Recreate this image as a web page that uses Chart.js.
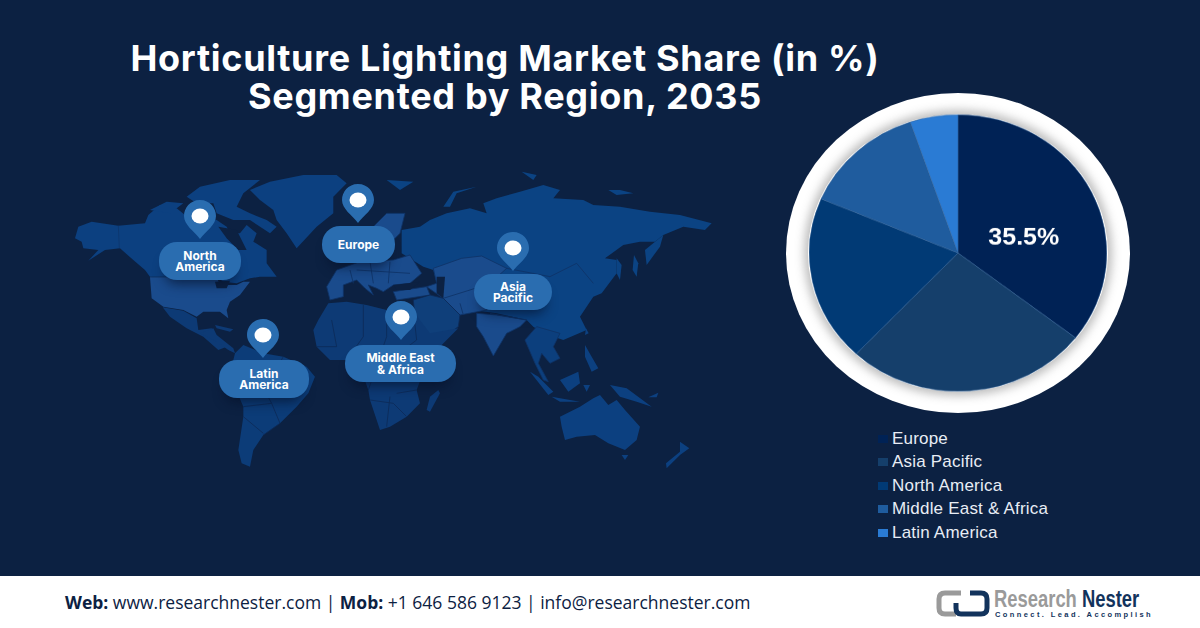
<!DOCTYPE html>
<html>
<head>
<meta charset="utf-8">
<title>Horticulture Lighting Market Share</title>
<script src="https://cdn.jsdelivr.net/npm/chart.js@4"></script>
<style>
  html,body{margin:0;padding:0;background:#0c2142;}
  #page{position:relative;width:1200px;height:628px;overflow:hidden;background:#0c2142;font-family:"Inter",sans-serif;}
  #title{position:absolute;left:0;top:39px;width:1010px;text-align:center;color:#fff;font-weight:700;font-size:36px;line-height:38px;letter-spacing:.7px;}
  #map{position:absolute;left:0;top:0;width:1200px;height:628px;}
  .pill{position:absolute;background:#2a6db0;color:#fff;font-weight:700;font-size:12px;line-height:11.5px;border-radius:18px;display:flex;align-items:center;justify-content:center;text-align:center;box-shadow:0 10px 12px -6px rgba(4,16,40,.65);}
  .pin{position:absolute;width:36px;height:46px;}
  #ring{position:absolute;left:786px;top:92.5px;width:344px;height:320px;border-radius:50%;background:#fff;}
  #ringin{position:absolute;left:808px;top:113.5px;width:300px;height:278px;border-radius:50%;box-shadow:0 0 10px 4px rgba(90,90,90,.4);}
  #pieBox{position:absolute;left:809px;top:103.5px;width:298px;height:298px;transform:scaleY(.93);}
  #legend{position:absolute;left:878px;top:426.5px;color:#e8edf5;font-family:"Liberation Sans",sans-serif;font-size:17px;}
  #legend div{height:23.5px;line-height:23.5px;white-space:nowrap;letter-spacing:.2px;}
  #legend i{display:inline-block;width:10px;height:8px;margin-right:4px;vertical-align:1px;}
  #footer{position:absolute;left:0;top:576px;width:1200px;height:52px;background:#fff;}
  #contact{position:absolute;left:65px;top:16px;color:#0c2142;font-family:"Open Sans",sans-serif;font-size:17.5px;line-height:20px;white-space:nowrap;}
  #contact b{font-weight:700;}
  #logo{position:absolute;left:936px;top:13px;}
  #lname{position:absolute;left:994px;top:10px;font-family:"Liberation Sans",sans-serif;font-weight:700;font-size:23px;line-height:26px;white-space:nowrap;color:#9a9a9a;transform:scaleX(.8);transform-origin:left;}
  #lname span{color:#12335c;}
  #ltag{position:absolute;left:995px;top:34px;font-family:"Liberation Sans",sans-serif;font-weight:700;font-size:7.5px;letter-spacing:2.4px;color:#12335c;white-space:nowrap;}
</style>
</head>
<body>
<div id="page">
  <svg id="map" viewBox="0 0 1200 628">
    <g stroke-linejoin="round">
    <!-- north america -->
    <g transform="translate(70,170) scale(.3333)">
      <g fill="#0c4080">
        <path d="M15,205 25,170 65,155 145,167 225,160 235,135 270,105 320,115 345,135 440,150 470,170 480,190 510,190 530,165 560,190 550,215 590,240 590,280 620,320 570,320 540,325 500,340 460,335 440,320 240,320 225,300 190,270 150,235 105,240 55,272 85,240 40,235 35,215Z"/>
        <path d="M390,50 480,30 570,30 520,70 500,110 540,130 590,150 620,170 600,190 540,150 490,150 440,130 430,100 380,100 350,80Z"/>
        <path d="M240,120 290,95 340,100 300,130Z"/>
        <path d="M540,60 600,35 700,15 800,15 830,40 790,80 790,130 740,170 680,235 650,190 620,150 610,120 570,90Z"/>
      </g>
      <path d="M445,170 500,180 530,240 505,240 470,205Z" fill="#0c2142"/>
      <path d="M145,167 148,235" stroke="#0c3468" stroke-width="2" fill="none"/>
      <path d="M240,322 440,322 450,345 500,345 520,335 540,335 510,375 480,395 470,420 475,445 450,425 400,425 380,440 340,420 280,410 245,385Z" fill="#1a4b8c"/>
      <path d="M435,335 480,332 470,355 440,355Z" fill="#0c2142"/>
      <path d="M278,412 340,422 380,445 385,480 425,475 440,500 470,530 445,540 400,500 350,475 300,440Z" fill="#0d3a75"/>
      <path d="M435,465 490,478 480,485 440,475Z" fill="#0d3a75"/>
    </g>
    <!-- eurasia -->
    <g transform="translate(330,170) scale(.3333)">
      <g fill="#0b4383">
        <path d="M215,180 270,170 300,150 350,130 420,115 470,130 460,100 500,85 570,65 640,45 690,60 670,85 760,90 790,105 870,110 960,125 1050,135 1145,160 1125,180 1060,170 1000,195 975,215 930,215 880,225 825,265 860,270 860,310 815,370 790,380 770,410 750,440 770,480 700,510 640,490 610,470 590,450 500,430 430,420 390,400 360,360 320,340 310,300 280,290 215,250Z"/>
        <path d="M340,110 370,65 440,50 380,70 360,110Z"/>
        <path d="M835,60 870,60 910,70 860,75Z"/>
        <path d="M170,30 250,35 210,60Z"/>
        <path d="M575,5 620,15 610,30Z"/>
        <path d="M860,265 875,285 870,330 860,310Z"/>
        <path d="M912,255 925,280 920,320 908,300Z"/>
        <path d="M945,240 1000,195 990,230 950,285Z"/>
      </g>
      <g fill="#1a4b8c" stroke="#0e3366" stroke-width="2.5">
        <path d="M310,295 395,265 455,258 530,295 480,340 470,420 390,435 340,385 290,350 320,340Z"/>
        <path d="M440,430 500,435 590,450 570,470 530,490 490,558 460,500 440,470Z"/>
        <path d="M20,300 90,275 190,270 240,255 275,310 240,340 190,345 160,365 140,355 115,345 130,375 105,355 80,330 40,345 40,380 0,390 -10,350Z"/>
        <path d="M190,365 290,350 300,375 200,390Z"/>
        <path d="M130,170 170,130 225,130 210,190 190,210 170,260 160,210Z"/>
      </g>
      <path d="M250,390 300,375 340,385 390,435 385,470 330,510 280,530 260,490Z" fill="#0f3f7a" stroke="#0c2a58" stroke-width="2.5"/>
      <path d="M320,320 345,320 340,385 320,370Z" fill="#0c2142"/>
      <path d="M190,345 270,335 240,360 200,360Z" fill="#0c2142"/>
      <g fill="none" stroke="#0e3366" stroke-width="2.5">
        <path d="M60,300 70,340M120,275 130,340M180,275 175,340M80,300 240,310M340,385 420,360 480,340M390,400 400,435"/>
        <path d="M530,295 660,320 740,280 790,340M480,430 590,450"/>
      </g>
    </g>
    <!-- latin america + africa -->
    <g transform="translate(200,310) scale(.3333)">
      <path d="M0,70 40,55 50,75 100,115 105,130 85,120 50,95Z" fill="#0d3a75"/>
      <path d="M105,130 130,105 190,130 250,140 320,170 345,200 325,250 290,290 240,340 190,375 160,420 150,470 125,460 115,420 130,320 130,290 100,220 95,170Z" fill="#0c3c78"/>
      <path d="M385,-20 440,-25 500,-15 560,0 640,0 660,30 690,70 775,55 720,110 680,150 665,200 650,240 660,280 620,320 570,350 540,360 510,270 505,240 480,170 440,150 390,150 350,110 340,60 355,30Z" fill="#0d3a75"/>
      <path d="M715,240 720,250 690,305 680,300 690,260Z" fill="#0d3a75"/>
      <g fill="none" stroke="#0c2a58" stroke-width="2.5">
        <path d="M395,30 410,110 350,110M490,-15 490,80 440,150M560,0 560,80 505,240M640,0 650,90 570,150M510,270 580,280 620,320M570,260 560,350M650,240 590,250"/>
        <path d="M130,290 215,280 240,340 190,375M160,180 215,280M250,140 215,200M130,320 190,370"/>
      </g>
    </g>
    <!-- south east asia + oceania -->
    <g transform="translate(480,320) scale(.3333)" fill="#0c4080">
      <path d="M135,60 170,20 240,40 220,80 240,115 210,130 185,100 175,130 205,185 190,180 165,130Z" fill="#0c3f7d" stroke="#0e3366" stroke-width="2.5"/>
      <path d="M150,155 175,170 220,215 205,225Z"/>
      <path d="M215,230 300,245 240,245Z"/>
      <path d="M240,180 295,155 300,190 265,215Z"/>
      <path d="M315,75 335,110 355,145 335,155 315,110Z"/>
      <path d="M310,195 330,195 320,215Z"/>
      <path d="M318,25 326,40 315,45Z"/>
      <path d="M390,195 440,205 515,260 470,245 420,230Z"/>
      <path d="M240,290 300,260 340,235 360,225 385,255 410,240 435,270 480,320 470,360 435,390 385,370 345,345 290,350 255,360 245,320Z"/>
      <path d="M425,405 445,405 435,420Z"/>
      <path d="M600,365 628,385 600,405 560,445 558,430 600,395Z"/>
      <path d="M505,232 535,218 530,232Z"/>
    </g>
    </g>
  </svg>

  <div id="title">Horticulture Lighting Market Share (in %)<br>Segmented by Region, 2035</div>
  <div id="pins"></div>

  <div id="ring"></div>
  <div id="ringin"></div>
  <div id="pieBox"><canvas id="pie" width="298" height="298"></canvas></div>

  <div id="legend"></div>

  <div id="footer">
    <div id="contact"><b>Web:</b> www.researchnester.com | <b>Mob:</b> +1 646 586 9123 | info@researchnester.com</div>
    <svg id="logo" width="54" height="28" viewBox="0 0 54 28" fill="none">
      <path d="M25,4 H9 Q3,4 3,10 V19 Q3,25 9,25 H20" stroke="#9a9a9a" stroke-width="5"/>
      <path d="M34,4 H45 Q51,4 51,10 V19 Q51,25 45,25 H25 Q20,25 20,19 V14" stroke="#12335c" stroke-width="5"/>
    </svg>
    <div id="lname">Research <span>Nester</span></div>
    <div id="ltag">Connect. Lead. Accomplish</div>
  </div>
</div>

<script>
const regions = ['Europe', 'Asia Pacific', 'North America', 'Middle East & Africa', 'Latin America'];
const shares = [35.5, 26.5, 19.4, 13.4, 5.2];
const colors = ['#002255', '#153f6b', '#013a75', '#1f5c9e', '#2a7bd4'];

// map callouts: label lines, pill box, pin head centre
const callouts = [
  ['North<br>America',        159, 242, 82, 38, 200, 216],
  ['Europe',                  322, 226, 73, 37, 358, 200],
  ['Asia<br>Pacific',         474, 274, 78, 36, 513, 248],
  ['Latin<br>America',        219, 360, 90, 38, 263, 335],
  ['Middle East<br>&amp; Africa', 345, 345, 111, 37, 401, 317],
];

const pins = document.getElementById('pins');
pins.innerHTML = callouts.map(([txt,x,y,w,h,cx,cy])=>`
  <svg class="pin" style="left:${cx-18}px;top:${cy-18}px" viewBox="0 0 36 46">
    <path d="M18,2 C8,2 2,10 2,18 C2,27 12,33 18,41 C24,33 34,27 34,18 C34,10 28,2 18,2Z" fill="#2a6db0"/>
    <ellipse cx="18" cy="18" rx="8.5" ry="7.5" fill="#fff"/>
  </svg>
  <div class="pill" style="left:${x}px;top:${y}px;width:${w}px;height:${h}px">${txt}</div>`).join('');

document.getElementById('legend').innerHTML = regions
  .map((r,i)=>`<div><i style="background:${colors[i]}"></i>${r.replace('&','&amp;')}</div>`).join('');

const shareLabel = {
  id:'shareLabel',
  afterDatasetsDraw(chart) {
    const p = chart.getDatasetMeta(0).data[0].getCenterPoint();
    const c = chart.ctx;
    c.save();
    c.fillStyle='#fff';
    c.font='700 25px "Liberation Sans", sans-serif';
    c.textAlign='center';
    c.textBaseline='middle';
    c.fillText(shares[0]+'%', p.x-1, p.y+17);
    c.restore();
  }
};

new Chart(document.getElementById('pie'),{
  type:'pie',
  data:{ labels:regions, datasets:[{ data:shares, backgroundColor:colors, borderColor:'#2a5a90', borderWidth:0.5 }] },
  options:{
    responsive:false, animation:false,
    plugins:{ legend:{display:false}, tooltip:{enabled:false} }
  },
  plugins:[shareLabel]
});
</script>
</body>
</html>
